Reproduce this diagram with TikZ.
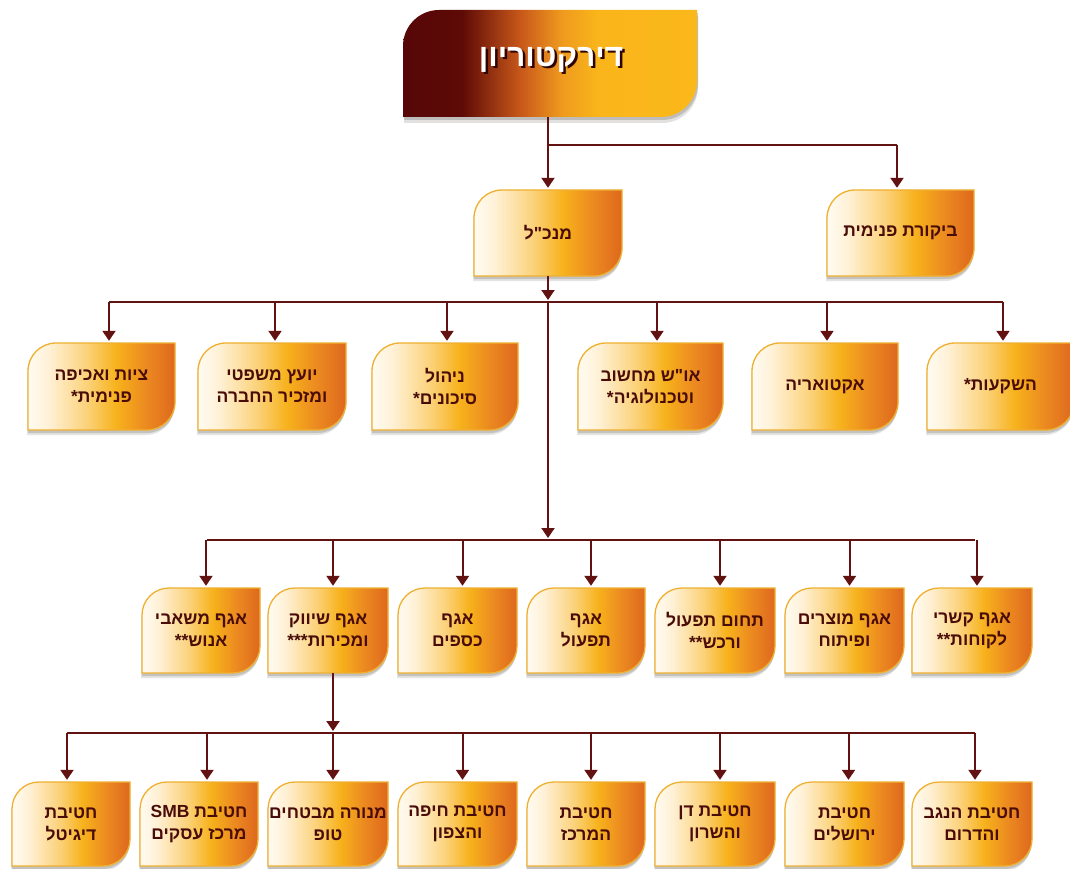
\documentclass[tikz,border=0pt]{standalone}
\usepackage{fontspec}
\TeXXeTstate=1
\newfontfamily\heb[Script=Hebrew]{Liberation Sans}
\usetikzlibrary{arrows.meta}
\definecolor{sa}{HTML}{FFFBF2}
\definecolor{sb}{HTML}{FFF1D6}
\definecolor{sc}{HTML}{FBD27A}
\definecolor{sd}{HTML}{F7B21C}
\definecolor{se}{HTML}{EC8A20}
\definecolor{sf}{HTML}{DE681E}
\definecolor{ta}{HTML}{560707}
\definecolor{tb}{HTML}{5E0A06}
\definecolor{tc}{HTML}{C8581A}
\definecolor{td}{HTML}{EF9A1E}
\definecolor{te}{HTML}{F9B51A}
\definecolor{tf}{HTML}{FBB81A}
\definecolor{bordc}{HTML}{EFB030}
\definecolor{linec}{HTML}{621210}
\definecolor{txtc}{HTML}{4A0C08}
\definecolor{shadc}{HTML}{6E6A66}
\definecolor{titlesh}{HTML}{2E0402}
\pgfdeclarehorizontalshading{orgsh}{100bp}{color(0bp)=(sa); color(25bp)=(sa); color(32bp)=(sb); color(45bp)=(sc); color(55bp)=(sd); color(65bp)=(se); color(75bp)=(sf); color(100bp)=(sf)}
\pgfdeclarehorizontalshading{topsh}{100bp}{color(0bp)=(ta); color(25bp)=(ta); color(35bp)=(tb); color(45bp)=(tc); color(52bp)=(td); color(58bp)=(te); color(75bp)=(tf); color(100bp)=(tf)}
\newcommand\cshape[5]{({#1},{#4}) -- ({#1},{#2+#5}) .. controls ({#1},{#2+0.448*#5}) and ({#1+0.448*#5},{#2}) .. ({#1+#5},{#2}) -- ({#3},{#2}) -- ({#3},{#4-#5}) .. controls ({#3},{#4-0.448*#5}) and ({#3-0.448*#5},{#4}) .. ({#3-#5},{#4}) -- cycle}
\newcommand\obox[7]{%
  \fill[shadc,opacity=.18,shift={(-1,5)}] \cshape{#2}{#3}{#4}{#5}{#6};
  \fill[shadc,opacity=.28,shift={(0,3)}] \cshape{#2}{#3}{#4}{#5}{#6};
  \path[shading=orgsh,draw=bordc,line width=1.3pt] \cshape{#2}{#3}{#4}{#5}{#6};
  \node[txt,minimum width={(#4-#2)*1pt},minimum height={(#5-#3)*1pt}] (#1) at ({(#2+#4)/2},{(#3+#5)/2}) {#7};
}
\newcommand\titletext{\beginR דירקטוריון\endR}
\tikzset{
  txt/.style={inner sep=0pt,align=center,text=txtc,font=\heb\bfseries\fontsize{17.5}{22}\selectfont},
  conn/.style={draw=linec,line width=2pt},
  arr/.style={conn,-{Triangle[width=13pt,length=10pt]},shorten >=2pt}
}
\begin{document}
\begin{tikzpicture}[x=1pt,y=-1pt]
\useasboundingbox (0,0) rectangle (1070,869);
\fill[white] (0,0) rectangle (1070,869);
% top box
\fill[shadc,opacity=.2,shift={(1,6)}] \cshape{403}{10}{697}{117}{36};
\fill[shadc,opacity=.3,shift={(1,3)}] \cshape{403}{10}{697}{117}{36};
\path[shading=topsh] \cshape{403}{10}{697}{117}{36};
\node[inner sep=0pt,minimum width=294pt,minimum height=107pt] (top) at (550,63.5) {};
\node[text=white,font=\heb\bfseries\fontsize{31.5}{36}\selectfont] (title) at (551,61)
  {\rlap{\kern2.5pt\raisebox{-2.5pt}{\color{titlesh}\titletext}}\titletext};
% row 2
\obox{mgr}{474}{190}{622}{276}{28}{\beginR מנכ"ל\endR}
\obox{aud}{827}{190}{974}{276}{28}{\beginR ביקורת פנימית\endR}
% row 3
\obox{r3a}{28}{343}{175}{430}{28}{\beginR ציות ואכיפה\endR\\\beginR פנימית*\endR}
\obox{r3b}{198}{343}{346}{430}{28}{\beginR יועץ משפטי\endR\\\beginR ומזכיר החברה\endR}
\obox{r3c}{372}{343}{518}{430}{28}{\beginR ניהול\endR\\\beginR סיכונים*\endR}
\obox{r3d}{578}{343}{723}{430}{28}{\beginR או"ש מחשוב\endR\\\beginR וטכנולוגיה*\endR}
\obox{r3e}{752}{343}{898}{430}{28}{\beginR אקטואריה\endR}
\obox{r3f}{927}{343}{1074}{430}{28}{\beginR השקעות*\endR}
% row 4
\obox{r4a}{142}{588}{260}{673}{27}{\beginR אגף משאבי\endR\\\beginR אנוש**\endR}
\obox{r4b}{268}{588}{388}{673}{27}{\beginR אגף שיווק\endR\\\beginR ומכירות***\endR}
\obox{r4c}{398}{588}{517}{673}{27}{\beginR אגף\endR\\\beginR כספים\endR}
\obox{r4d}{527}{588}{645}{673}{27}{\beginR אגף\endR\\\beginR תפעול\endR}
\obox{r4e}{655}{588}{775}{673}{27}{\beginR תחום תפעול\endR\\\beginR ורכש**\endR}
\obox{r4f}{785}{588}{904}{673}{27}{\beginR אגף מוצרים\endR\\\beginR ופיתוח\endR}
\obox{r4g}{912}{588}{1032}{673}{27}{\beginR אגף קשרי\endR\\\beginR לקוחות**\endR}
% row 5
\obox{r5a}{12}{782}{130}{866}{27}{\beginR חטיבת\endR\\\beginR דיגיטל\endR}
\obox{r5b}{140}{782}{258}{866}{27}{\beginR חטיבת SMB\endR\\\beginR מרכז עסקים\endR}
\obox{r5c}{268}{782}{388}{866}{27}{\beginR מנורה מבטחים\endR\\\beginR טופ\endR}
\obox{r5d}{398}{782}{517}{866}{27}{\beginR חטיבת חיפה\endR\\\beginR והצפון\endR}
\obox{r5e}{527}{782}{645}{866}{27}{\beginR חטיבת\endR\\\beginR המרכז\endR}
\obox{r5f}{655}{782}{775}{866}{27}{\beginR חטיבת דן\endR\\\beginR והשרון\endR}
\obox{r5g}{785}{782}{904}{866}{27}{\beginR חטיבת\endR\\\beginR ירושלים\endR}
\obox{r5h}{912}{782}{1032}{866}{27}{\beginR חטיבת הנגב\endR\\\beginR והדרום\endR}
% connectors
\coordinate (b2) at (0,145);
\coordinate (b3) at (0,302);
\coordinate (b4) at (0,540);
\coordinate (b5) at (0,733);
\draw[arr] (top.south -| mgr.north) -- (mgr.north);
\draw[conn] (mgr.north |- b2) -- ([xshift=-3.5pt]aud.north |- b2);
\draw[arr] ([xshift=-3.5pt]aud.north |- b2) -- ([xshift=-3.5pt]aud.north);
\draw[arr] (mgr.south) -- (mgr.south |- b3);
\draw[conn] ([xshift=7.5pt]r3a.north |- b3) -- ([xshift=2.5pt]r3f.north |- b3);
\foreach \n/\s in {r3a/7.5,r3b/3,r3c/2,r3d/6.5,r3e/2,r3f/2.5}
  \draw[arr] ([xshift=\s pt]\n.north |- b3) -- ([xshift=\s pt]\n.north);
\draw[arr] (mgr.south |- b3) -- (mgr.south |- b4);
\draw[conn] ([xshift=6pt]r4a.north |- b4) -- ([xshift=3pt]r4g.north |- b4);
\foreach \n in {r4a,r4b,r4c,r4d,r4e,r4f,r4g}
  \draw[arr] ([xshift=5pt]\n.north |- b4) -- ([xshift=5pt]\n.north);
\draw[arr] ([xshift=5pt]r4b.south) -- ([xshift=5pt]r4b.south |- b5);
\draw[conn] ([xshift=-4pt]r5a.north |- b5) -- ([xshift=3pt]r5h.north |- b5);
\foreach \n/\s in {r5a/-4,r5b/8,r5c/5,r5d/5,r5e/5,r5f/5,r5g/4,r5h/3}
  \draw[arr] ([xshift=\s pt]\n.north |- b5) -- ([xshift=\s pt]\n.north);
\end{tikzpicture}
\end{document}
